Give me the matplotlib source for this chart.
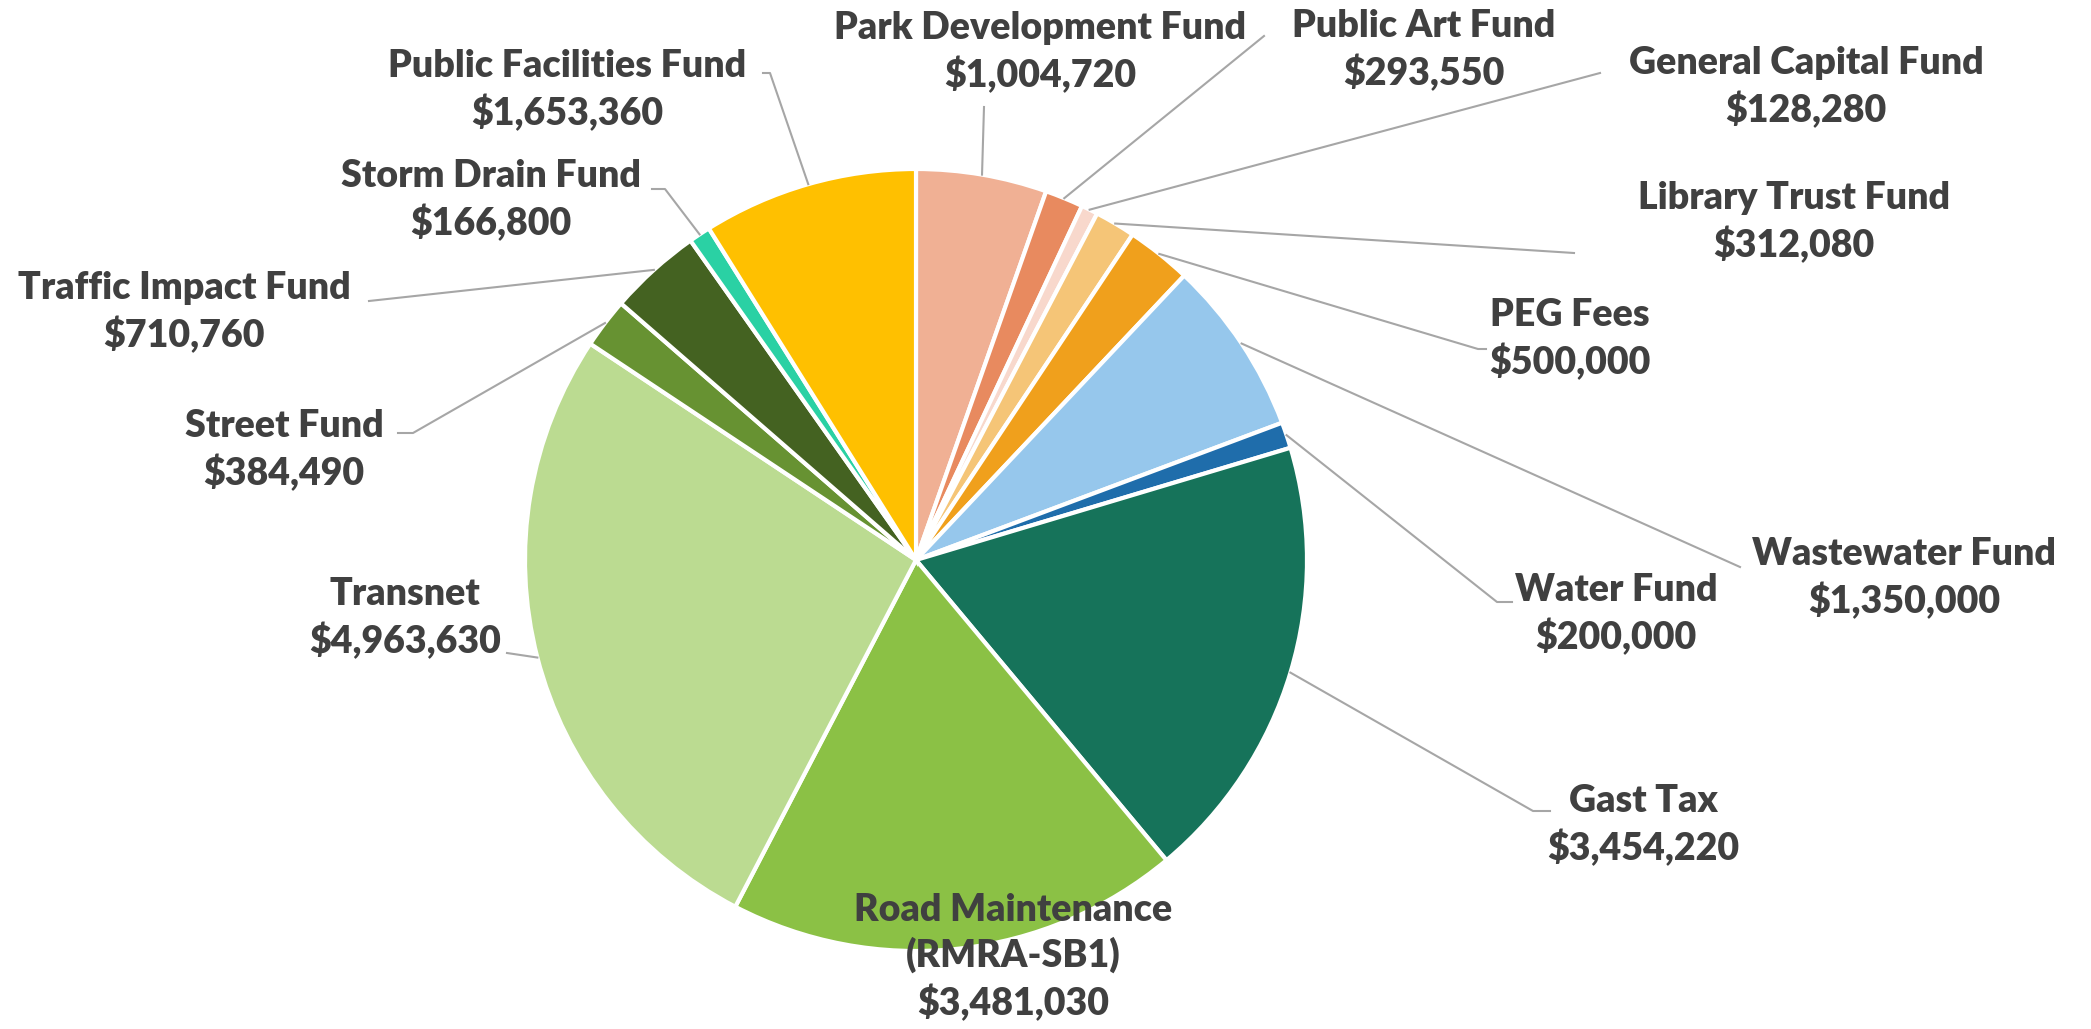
import numpy as np
import matplotlib.pyplot as plt

# fund names and amounts, clockwise from 12 o'clock
funds = ['Park Development Fund', 'Public Art Fund', 'General Capital Fund',
         'Library Trust Fund', 'PEG Fees', 'Wastewater Fund', 'Water Fund',
         'Gast Tax', 'Road Maintenance\n(RMRA-SB1)', 'Transnet', 'Street Fund',
         'Traffic Impact Fund', 'Storm Drain Fund', 'Public Facilities Fund']
amounts = [1004720, 293550, 128280, 312080, 500000, 1350000, 200000,
           3454220, 3481030, 4963630, 384490, 710760, 166800, 1653360]
colors = ['#F0B094', '#E88A5F', '#F8D8CC', '#F5C577', '#F0A01C', '#96C7EC',
          '#1F6DAB', '#16735A', '#8BC145', '#BBDB91', '#679232', '#446221',
          '#2AD1A4', '#FFC000']

W, H = 2091, 1029
cx, cy, R = 916, 560, 391

# label centres (pixels, y down) and leader elbow/end points
label_xy = [(1040, 52), (1424, 50), (1806, 87), (1794, 222), (1570, 339),
            (1904, 578), (1616, 614), (1643, 825), (1013, 957), (405, 618),
            (284, 450), (184, 312), (491, 200), (567, 90)]
leaders = [[(984, 107)], [(1264, 36)], [(1600, 73)], [(1574, 253)],
           [(1478, 349), (1486, 349)], [(1740, 567)],
           [(1497, 602), (1512, 602)], [(1533, 811), (1550, 811)], None,
           [(507, 653)], [(413, 433), (398, 433)], [(369, 301)],
           [(665, 189), (652, 189)], [(770, 73), (763, 73)]]

fig = plt.figure(figsize=(W / 100, H / 100), dpi=100)
ax = fig.add_axes([0, 0, 1, 1])

wedges, _ = ax.pie(amounts, colors=colors, center=(cx, H - cy), radius=R,
                   startangle=90, counterclock=False,
                   wedgeprops=dict(edgecolor='white', linewidth=3))
ax.set_xlim(0, W)
ax.set_ylim(0, H)
ax.set_aspect('equal')
ax.axis('off')

for w, name, amt, pos, pts in zip(wedges, funds, amounts, label_xy, leaders):
    if pts is not None:
        ang = np.deg2rad((w.theta1 + w.theta2) / 2)
        xs = [cx + R * np.cos(ang)] + [p[0] for p in pts]
        ys = [H - cy + R * np.sin(ang)] + [H - p[1] for p in pts]
        ax.plot(xs, ys, color='#A6A6A6', lw=1.5, zorder=1)
    ax.text(pos[0], H - pos[1], f'{name}\n${amt:,}', ha='center', va='center',
            fontsize=27, fontweight='heavy', family='Lato', color='#404040',
            linespacing=1.33)

fig.savefig('out.png', dpi=100, facecolor='white')
